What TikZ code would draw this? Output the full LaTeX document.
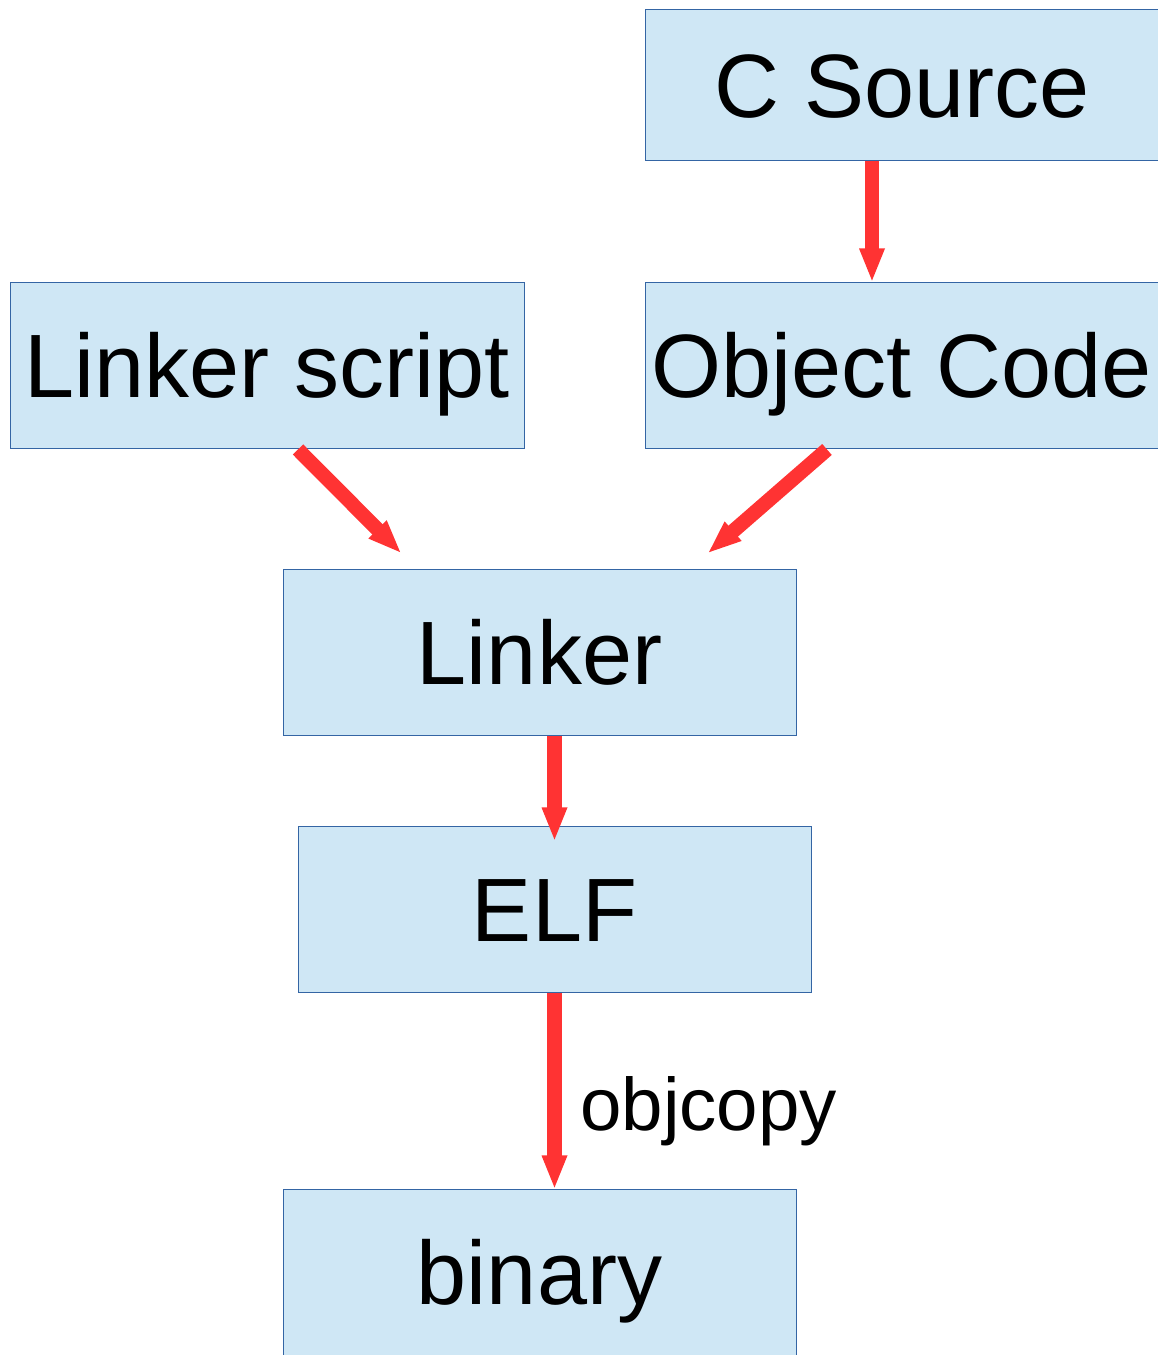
\documentclass[tikz,border=0pt]{standalone}
\usepackage{fontspec}
\setmainfont{Liberation Sans}
\usetikzlibrary{arrows.meta}
\definecolor{boxfill}{HTML}{CFE7F5}
\definecolor{boxline}{HTML}{3465A4}
\definecolor{flowred}{HTML}{FF3333}
\tikzset{
  stagebox/.style={draw=boxline, line width=1pt, fill=boxfill, inner sep=0pt,
    minimum width=514pt, minimum height=166pt, text height=64pt, text depth=0pt,
    font=\fontsize{90}{100}\selectfont, anchor=center},
  flow/.style={draw=flowred, line width=14.5pt,
    -{Triangle[width=23pt,length=34pt]}, shorten <=0pt},
  flowlabel/.style={inner sep=0pt, anchor=base west,
    font=\fontsize{74.5}{80}\selectfont}
}
\begin{document}
\begin{tikzpicture}[x=1pt,y=1pt]
  \useasboundingbox (0,0) rectangle (1158,1355);
  \clip (0,0) rectangle (1158,1355);

  % stages of the build
  \node[stagebox, minimum height=151pt] (csrc) at (902,1269.5) {C Source};
  \node[stagebox] (obj) at (902,989) {Object Code};
  \node[stagebox] (lscript) at (267,989) {Linker script};
  \node[stagebox, minimum width=513pt] (lnk) at (539.5,702) {Linker};
  \node[stagebox, minimum width=513pt] (elf) at (554.5,445) {ELF};
  \node[stagebox, minimum width=513pt] (bin) at (539.5,82) {binary};

  % flow between the stages
  \draw[flow] ([xshift=-30pt]csrc.south) -- ([xshift=-30pt]obj.north);
  \draw[flow] ([xshift=31pt]lscript.south) -- ([shift={(119pt,16pt)}]lnk.north west);
  \draw[flow] ([xshift=-75pt]obj.south) -- ([shift={(-89pt,16pt)}]lnk.north east);
  \draw[flow] (lnk.south -| elf.north) -- ([yshift=-15pt]elf.north);
  \draw[flow] (elf.south) -- (elf.south |- bin.north);

  \node[flowlabel] (objcopy) at (580,224) {objcopy};
\end{tikzpicture}
\end{document}
